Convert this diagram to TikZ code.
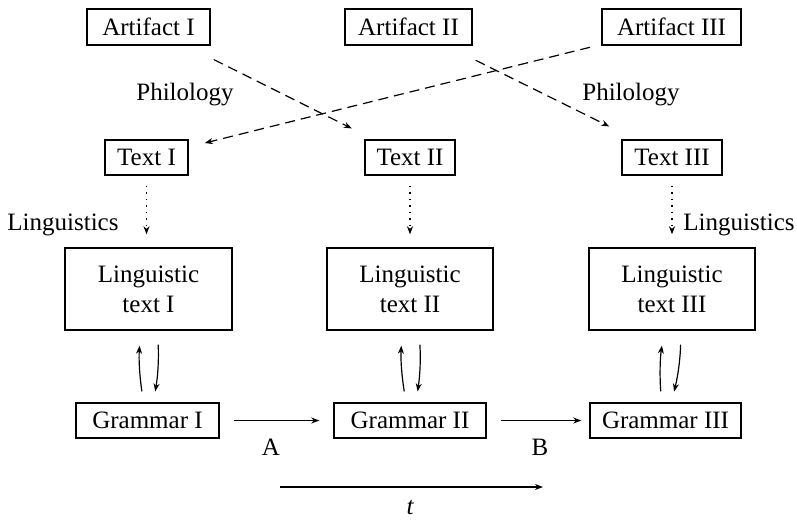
\documentclass[tikz,border=0pt]{standalone}
\usepackage{fontspec}
\setmainfont{Liberation Serif}
\usetikzlibrary{arrows.meta}
\begin{document}
\begin{tikzpicture}[x=1pt,y=-1pt,
  every node/.style={font=\fontsize{25}{30}\selectfont},
  box/.style={draw,line width=1.4pt,inner sep=0pt,align=center},
  lbl/.style={inner sep=0pt},
  arr/.style={line width=1.2pt,-{Stealth[length=8pt,width=6pt,inset=2.5pt]}},
  dasharr/.style={arr,dash pattern=on 10pt off 6pt},
  dotarr/.style={arr,dash pattern=on 1.5pt off 5pt},
]
\useasboundingbox (0,0) rectangle (797,520);
% top row
\node[box,minimum width=123pt,minimum height=36pt] (a1) at (148.5,27) {Artifact I};
\node[box,minimum width=127pt,minimum height=36pt] (a2) at (408.5,27) {Artifact II};
\node[box,minimum width=139pt,minimum height=36pt] (a3) at (671.5,27) {Artifact III};
% texts
\node[box,minimum width=83pt,minimum height=35pt] (t1) at (146.5,157.5) {Text I};
\node[box,minimum width=90pt,minimum height=35pt] (t2) at (410,157.5) {Text II};
\node[box,minimum width=100pt,minimum height=35pt] (t3) at (672,157.5) {Text III};
% linguistic texts
\node[box,minimum width=167pt,minimum height=82pt] (l1) at (148.5,289) {Linguistic\\text I};
\node[box,minimum width=166pt,minimum height=82pt] (l2) at (410,289) {Linguistic\\text II};
\node[box,minimum width=166pt,minimum height=82pt] (l3) at (672,289) {Linguistic\\text III};
% grammars
\node[box,minimum width=143pt,minimum height=35pt] (g1) at (147.5,420.5) {Grammar I};
\node[box,minimum width=152pt,minimum height=35pt] (g2) at (410,420.5) {Grammar II};
\node[box,minimum width=151pt,minimum height=35pt] (g3) at (665.5,420.5) {Grammar III};
% labels
\node[lbl] (p1) at (185,95) {Philology};
\node[lbl] (p2) at (631,95) {Philology};
\node[lbl] (ling1) at (63,225) {Linguistics};
\node[lbl] (ling3) at (739,225) {Linguistics};
% philology arrows
\draw[dasharr,shorten <=73pt,shorten >=65pt] (a1.center) -- (t2.center);
\draw[dasharr,shorten <=84pt,shorten >=60pt] (a3.center) -- (t1.center);
\draw[dasharr,shorten <=75pt,shorten >=70pt] (a2.center) -- (t3.center);
% linguistics arrows
\draw[dotarr,shorten <=10pt,shorten >=13pt] (t1.south) -- (t1.south |- l1.north);
\draw[dotarr,shorten <=10pt,shorten >=13pt] (t2.south) -- (l2.north);
\draw[dotarr,shorten <=10pt,shorten >=13pt] (t3.south) -- (l3.north);
% up/down arrows
\foreach \l/\g in {l1/g1,l2/g2,l3/g3}{
  \draw[arr,shorten <=11pt,shorten >=15pt] ([xshift=-4pt]\g.north) to[bend left=6] ([xshift=-8pt]\l.south);
  \draw[arr,shorten <=14pt,shorten >=11pt] ([xshift=9pt]\l.south) to[bend left=6] ([xshift=6pt]\g.north);
}
% grammar change arrows
\draw[arr,shorten <=14pt,shorten >=14pt] (g1.east) -- (g2.west) node[lbl,pos=0.45,below=18pt] (A) {A};
\draw[arr,shorten <=14pt,shorten >=8pt] (g2.east) -- (g3.west) node[lbl,pos=0.52,below=18pt] (B) {B};
% time axis
\coordinate (ts) at (280,487);
\coordinate (te) at (543,487);
\draw[arr] (ts) -- (te);
\node[lbl] (t) at (410,508) {\itshape t};
\end{tikzpicture}
\end{document}
